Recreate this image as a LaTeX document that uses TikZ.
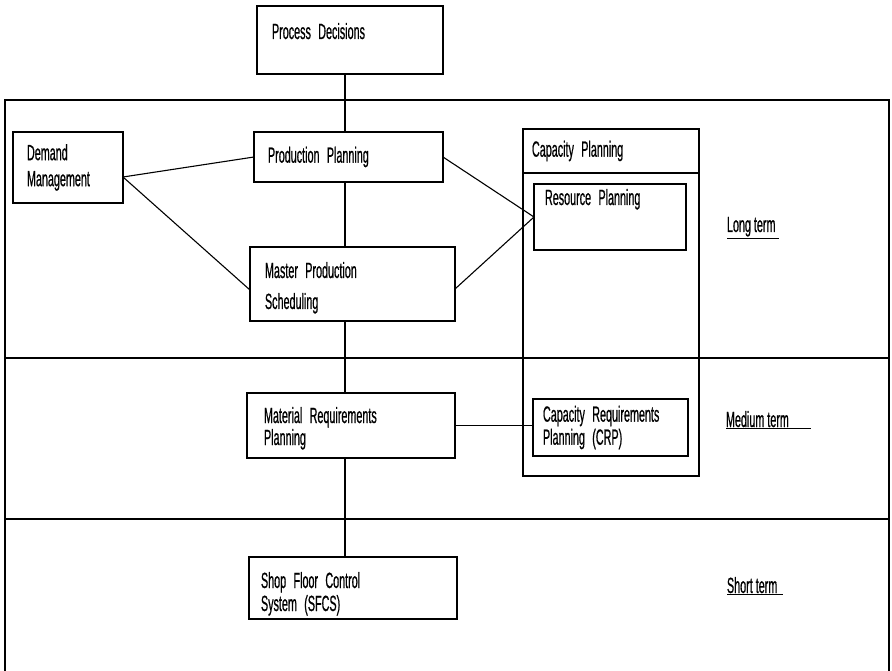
\documentclass[tikz,border=0pt]{standalone}
\usepackage{fontspec}
\setmainfont[FakeStretch=0.49, FakeBold=0.6]{Liberation Sans}
\usetikzlibrary{positioning}
\begin{document}
\begin{tikzpicture}[x=1pt, y=-1pt, every node/.style={font=\fontsize{22}{24}\selectfont, outer sep=0pt},
  box/.style={draw, line width=1.1pt, align=left, inner ysep=2pt},
  band/.style={draw, line width=1.1pt, inner sep=0pt, minimum width=884pt},
  link/.style={line width=1.1pt}]
\useasboundingbox (0,0) rectangle (892,671);
\node[band, anchor=north west, minimum height=258pt] (longband) at (5,100) {};
\node[band, below=0pt of longband, minimum height=161pt] (midband) {};
\node[band, below=0pt of midband, minimum height=160pt] (shortband) {};
\node[box, anchor=north west, text width=156pt, inner xsep=15pt, minimum height=68pt, text height=15pt, text depth=17pt] (pd) at (257,6) {Process Decisions};
\node[box, below=58pt of pd, xshift=-1.5pt, text width=161pt, inner xsep=14pt, minimum height=50pt] (pp) {Production Planning};
\node[box, below=65pt of pp, xshift=4pt, text width=175pt, inner xsep=15pt, minimum height=74pt, text height=15pt, text depth=27pt] (mps) {Master Production\\[7pt]Scheduling};
\node[box, below=72pt of mps, xshift=-1.5pt, text width=174pt, inner xsep=17pt, minimum height=65pt, text height=15pt, text depth=20pt] (mrp) {Material Requirements\\[-2pt]Planning};
\node[box, below=99pt of mrp, xshift=2pt, text width=184pt, inner xsep=12pt, minimum height=62pt, text height=15pt, text depth=15pt] (sfcs) {Shop Floor Control\\[-1pt]System (SFCS)};
\node[box, left=131pt of pp, yshift=-10.5pt, text width=82pt, inner xsep=14pt, minimum height=71pt] (dm) {Demand\\[2pt]Management};
\node[box, right=80pt of pp, yshift=6pt, text width=158pt, inner xsep=9pt, minimum height=44pt] (caphead) {Capacity Planning};
\node[draw, line width=1.1pt, inner sep=0pt, below=0pt of caphead, minimum width=176pt, minimum height=303pt] (capbody) {};
\node[box, below=11pt of caphead, xshift=-1pt, text width=130pt, inner xsep=11pt, minimum height=66pt, text height=15pt, text depth=39pt] (rp) {Resource Planning};
\node[box, right=78pt of mrp, yshift=-2pt, text width=135pt, inner xsep=10pt, minimum height=57pt] (crp) {Capacity Requirements\\[-1pt]Planning (CRP)};
\node[anchor=base west, inner sep=0pt] (longterm) at (727,232) {\underline{Long term\ }};
\node[anchor=base west, inner sep=0pt] (midterm) at (726,427) {\underline{Medium term\quad}};
\node[anchor=base west, inner sep=0pt] (shortterm) at (727,593) {\underline{Short term\ \ }};
\coordinate (spine) at (345,0);
\draw[link] (spine |- pd.south) -- (spine |- pp.north);
\draw[link] (spine |- pp.south) -- (spine |- mps.north);
\draw[link] (spine |- mps.south) -- (spine |- mrp.north);
\draw[link] (spine |- mrp.south) -- (spine |- sfcs.north);
\draw[link] ([yshift=-9.5pt]dm.east) -- (pp.west);
\draw[link] ([yshift=-9.5pt]dm.east) -- ([yshift=-6pt]mps.west);
\draw[link] (pp.east) -- (rp.west);
\draw[link] ([yshift=-5pt]mps.east) -- (rp.west);
\draw[link] (mrp.east) -- (mrp.east -| crp.west);
\end{tikzpicture}
\end{document}
